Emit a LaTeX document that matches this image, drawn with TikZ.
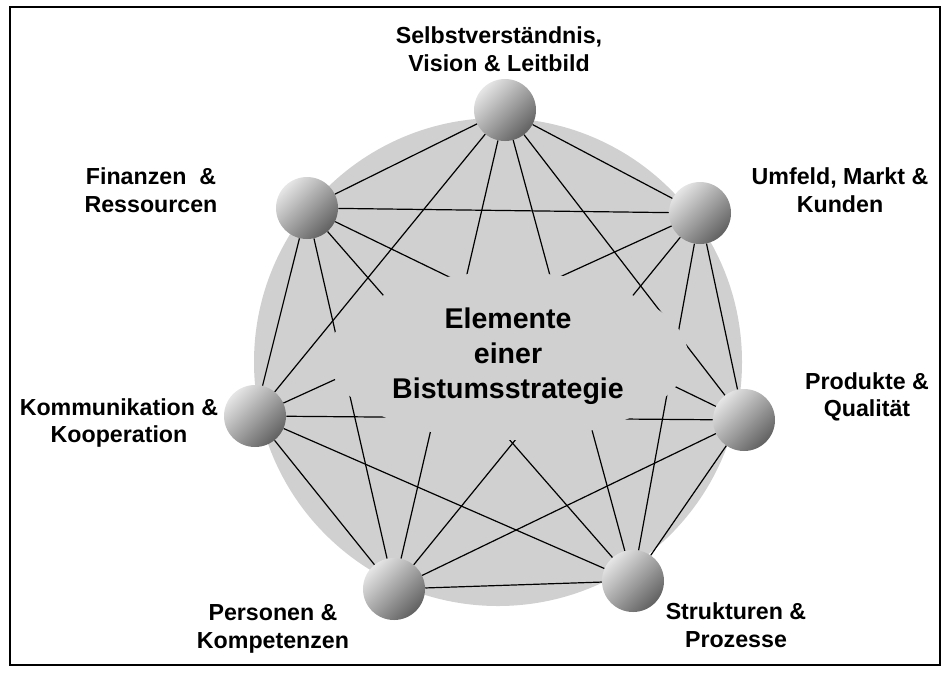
\documentclass[tikz,border=0pt]{standalone}
\usepackage{fontspec}
\setmainfont{Liberation Sans}
\usetikzlibrary{shapes.geometric}
\definecolor{discgrey}{RGB}{208,208,208}

\begin{document}
\begin{tikzpicture}[x=0.75pt,y=-0.75pt]
    \tikzset{
      ball/.style={circle,inner sep=0pt,minimum size=46.5pt,
        top color=black!10,bottom color=black!62,shading angle=45},
      label/.style={align=center,font=\bfseries\fontsize{17.4}{20.6}\selectfont},
      link/.style={line width=0.9pt}
    }
    \useasboundingbox (0,0) rectangle (949,672);
    \draw[line width=1.6pt] (10,7) rectangle (940,665);

    \node[circle,fill=discgrey,minimum size=366pt] (disc) at (498,362) {};

    \node[ball] (sv) at (505,110) {};
    \node[ball] (fin) at (307,208) {};
    \node[ball] (umf) at (700,213) {};
    \node[ball] (kom) at (255,416) {};
    \node[ball] (pro) at (744,420) {};
    \node[ball] (per) at (394,589) {};
    \node[ball] (str) at (633,581) {};

    \path[link] (sv) edge (fin) edge (umf) edge (kom) edge (pro) edge (per) edge (str);
    \path[link] (fin) edge (umf) edge (kom) edge (pro) edge (per) edge (str);
    \path[link] (umf) edge (kom) edge (pro) edge (per) edge (str);
    \path[link] (kom) edge (pro) edge (per) edge (str);
    \path[link] (pro) edge (per) edge (str);
    \path[link] (per) edge (str);

    \node[ellipse,fill=discgrey,inner sep=0pt,minimum width=270pt,minimum height=126pt,
      align=center,font=\bfseries\fontsize{21.4}{26.2}\selectfont] (mitte) at (508,356)
      {Elemente\\einer\\Bistumsstrategie};

    \node[label] (svtext) at (499,49) {Selbstverständnis,\\Vision \& Leitbild};
    \node[label] (fintext) at (151,190) {Finanzen \ \&\\Ressourcen};
    \node[label] (umftext) at (840,190) {Umfeld, Markt \&\\Kunden};
    \node[label] (komtext) at (119,423) {Kommunikation \&\\Kooperation};
    \node[label] (protext) at (867,397) {Produkte \&\\Qualität};
    \node[label] (pertext) at (273,629) {Personen \&\\Kompetenzen};
    \node[label] (strtext) at (736,625) {Strukturen \&\\Prozesse};
  \end{tikzpicture}
\end{document}
